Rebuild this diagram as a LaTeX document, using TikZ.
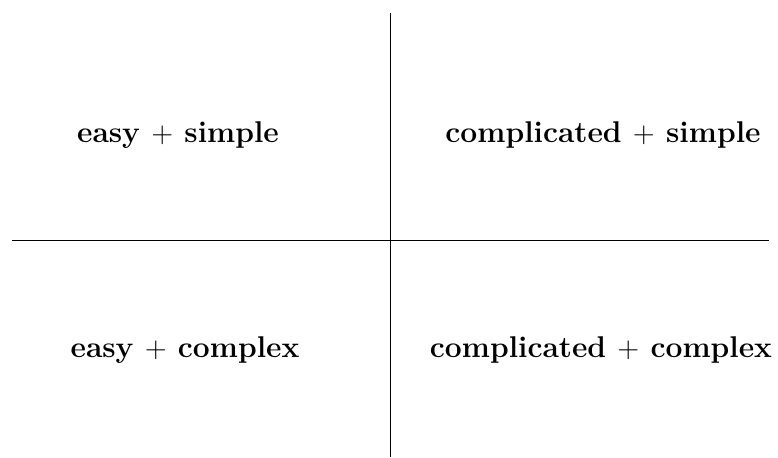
\documentclass[tikz,border=0pt]{standalone}
\begin{document}
\begin{tikzpicture}[x=0.5pt,y=-0.5pt]
          \tikzstyle{every node}=[font=\fontsize{15}{18}\selectfont\bfseries];
          \useasboundingbox (0,0) rectangle (778,457);
          \coordinate (top) at (390,13);
          \coordinate (bottom) at (390,457);
          \coordinate (left) at (12,240);
          \coordinate (right) at (769,240);
          \node (es) at (178,135) {easy $+$ simple};
          \node (cs) at (603,135) {complicated $+$ simple};
          \node (ec) at (185,350) {easy $+$ complex};
          \node (cc) at (601,350) {complicated $+$ complex};
          \draw (top)--(bottom)
          (left)--(right);
      \end{tikzpicture}
\end{document}
